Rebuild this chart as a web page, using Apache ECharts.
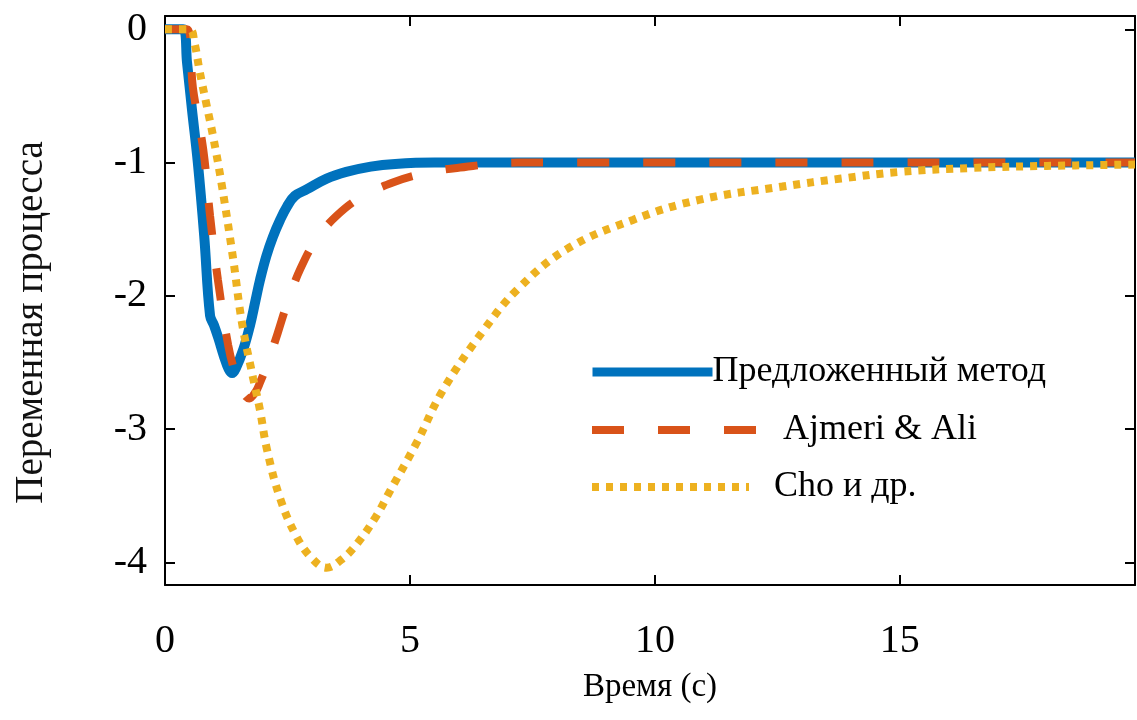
<!DOCTYPE html>
<html>
<head>
<meta charset="utf-8">
<script src="https://cdn.jsdelivr.net/npm/echarts@6/dist/echarts.min.js"></script>
<style>
  html, body { margin: 0; padding: 0; background: #fff; }
</style>
</head>
<body>
<div id="myChart" style="width:1137px;height:720px;"></div>
<script>
  // values: time (s) and process variable
  const blueT = [0, 0.37, 0.45, 0.55, 0.67, 0.8, 0.92, 1.0, 1.1, 1.2, 1.3, 1.37, 1.45, 1.6, 1.73, 1.85, 1.94, 2.07, 2.2, 2.35, 2.49, 2.65, 2.9, 3.3, 3.7, 4.2, 4.7, 5.5, 19.8];
  const blueY = [0, 0, -0.25, -0.6, -1.0, -1.55, -2.15, -2.22, -2.33, -2.45, -2.55, -2.58, -2.54, -2.4, -2.23, -2.03, -1.88, -1.7, -1.56, -1.43, -1.33, -1.25, -1.2, -1.12, -1.07, -1.03, -1.01, -1.0, -1.0];

  const orangeT = [0, 0.45, 0.57, 0.78, 0.92, 1.08, 1.29, 1.45, 1.6, 1.72, 1.85, 1.94, 2.1, 2.3, 2.5, 2.76, 3.1, 3.5, 4.0, 4.65, 5.3, 5.96, 7.2, 19.8];
  const orangeY = [0, 0, -0.44, -0.9, -1.4, -1.88, -2.37, -2.6, -2.73, -2.77, -2.72, -2.65, -2.5, -2.28, -2.05, -1.8, -1.57, -1.4, -1.26, -1.15, -1.08, -1.04, -1.0, -1.0];

  const yellowT = [0, 0.5, 0.6, 0.71, 0.85, 0.98, 1.16, 1.39, 1.57, 1.8, 1.94, 2.08, 2.35, 2.69, 3.0, 3.3, 3.6, 3.92, 4.3, 4.6, 5.14, 5.67, 6.5, 7.2, 8.2, 9.55, 10.9, 12.6, 13.8, 15, 16.5, 18, 19.8];
  const yellowY = [0, 0, -0.1, -0.32, -0.57, -0.8, -1.17, -1.72, -2.2, -2.62, -2.86, -3.15, -3.52, -3.81, -3.97, -4.04, -3.98, -3.86, -3.66, -3.46, -3.1, -2.71, -2.26, -1.95, -1.65, -1.43, -1.28, -1.18, -1.12, -1.07, -1.04, -1.025, -1.015];

  const xTicks = [0, 5, 10, 15];
  const yTicks = [-4, -3, -2, -1, 0];
  const names = ['Предложенный метод', 'Ajmeri & Ali', 'Cho и др.'];

  const pairs = (t, y) => t.map((v, i) => [v, y[i]]);
  const font = 'Liberation Serif';

  const chart = echarts.init(document.getElementById('myChart'));

  const xBase = {
    type: 'value', min: 0, max: 19.8,
    axisLine: { onZero: false, lineStyle: { color: '#000', width: 2 } },
    axisTick: { inside: true, length: 10, customValues: xTicks, lineStyle: { color: '#000', width: 2 } },
    splitLine: { show: false }
  };
  const yBase = {
    type: 'value', min: -4.17, max: 0.1,
    axisLine: { onZero: false, lineStyle: { color: '#000', width: 2 } },
    axisTick: { inside: true, length: 10, customValues: yTicks, lineStyle: { color: '#000', width: 2 } },
    splitLine: { show: false }
  };

  const legendText = { fontFamily: font, fontSize: 36, color: '#000' };
  const noDot = { color: 'transparent', borderWidth: 0 };

  let option = {
    animation: false,
    backgroundColor: '#fff',
    grid: { left: 165, right: 2, top: 16, bottom: 135, outerBoundsMode: 'none' },
    legend: [
      { data: [names[0]], left: 588, top: 354, padding: 0, itemWidth: 120, itemHeight: 12,
        itemStyle: noDot, lineStyle: { width: 9 }, textStyle: Object.assign({ padding: [0, 0, 0, -5] }, legendText) },
      { data: [names[1]], left: 588, top: 412, padding: 0, itemWidth: 164, itemHeight: 12,
        itemStyle: noDot, lineStyle: { width: 8 }, textStyle: Object.assign({ padding: [0, 0, 0, 22] }, legendText) },
      { data: [names[2]], left: 588, top: 469, padding: 0, itemWidth: 157, itemHeight: 12,
        itemStyle: noDot, lineStyle: { width: 8 }, textStyle: Object.assign({ padding: [0, 0, 0, 20] }, legendText) }
    ],
    xAxis: [
      Object.assign({}, xBase, {
        position: 'bottom',
        name: 'Время (с)', nameLocation: 'middle', nameGap: 86,
        nameTextStyle: { fontFamily: font, fontSize: 33, color: '#000' },
        axisLabel: { customValues: xTicks, fontFamily: font, fontSize: 40, color: '#000', margin: 36 }
      }),
      Object.assign({}, xBase, { position: 'top', axisLabel: { show: false } })
    ],
    yAxis: [
      Object.assign({}, yBase, {
        position: 'left',
        name: 'Переменная процесса', nameLocation: 'middle', nameGap: 114,
        nameTextStyle: { fontFamily: font, fontSize: 39, color: '#111', padding: [0, 44, 0, 0] },
        axisLabel: { customValues: yTicks, fontFamily: font, fontSize: 40, color: '#000', margin: 18 }
      }),
      Object.assign({}, yBase, { position: 'right', axisLabel: { show: false } })
    ],
    series: [
      {
        name: names[0], type: 'line', showSymbol: false, symbol: 'none', smooth: 0.4,
        lineStyle: { color: '#0072BD', width: 10, join: 'round' }, itemStyle: { color: '#0072BD' },
        data: pairs(blueT, blueY)
      },
      {
        name: names[1], type: 'line', showSymbol: false, symbol: 'none', smooth: 0.4,
        lineStyle: { color: '#D95319', width: 8, type: [32, 34], cap: 'butt' }, itemStyle: { color: '#D95319' },
        data: pairs(orangeT, orangeY)
      },
      {
        name: names[2], type: 'line', showSymbol: false, symbol: 'none', smooth: 0.4,
        lineStyle: { color: '#EDB120', width: 8, type: [7, 7], cap: 'butt' }, itemStyle: { color: '#EDB120' },
        data: pairs(yellowT, yellowY)
      }
    ]
  };

  chart.setOption(option);
</script>
</body>
</html>
